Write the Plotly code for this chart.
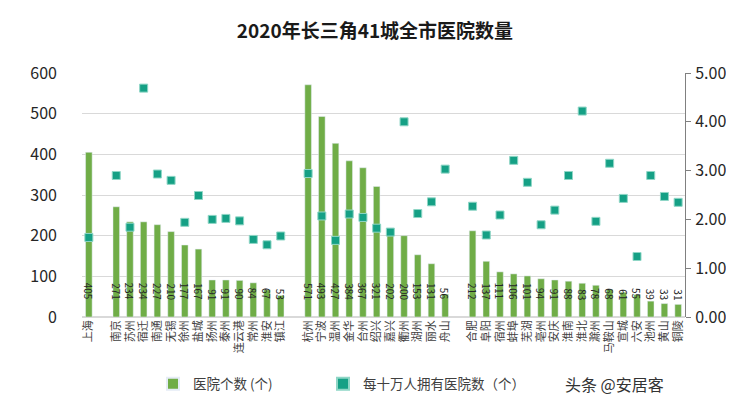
import plotly.graph_objects as go

cities = ["上海", "",
          "南京", "苏州", "宿迁", "南通", "无锡", "徐州", "盐城", "扬州", "泰州", "连云港", "常州", "淮安", "镇江", "",
          "杭州", "宁波", "温州", "金华", "台州", "绍兴", "嘉兴", "衢州", "湖州", "丽水", "舟山", "",
          "合肥", "阜阳", "宿州", "蚌埠", "芜湖", "亳州", "安庆", "淮南", "淮北", "滁州", "马鞍山", "宣城", "六安", "池州", "黄山", "铜陵"]
hospitals = [405, None,
             271, 234, 234, 227, 210, 177, 167, 91, 91, 90, 84, 67, 53, None,
             571, 493, 427, 384, 367, 321, 202, 200, 153, 131, 56, None,
             212, 137, 111, 106, 101, 94, 91, 88, 83, 78, 68, 61, 55, 39, 33, 31]
per100k = [1.63, None,
           2.90, 1.84, 4.69, 2.93, 2.80, 1.94, 2.49, 2.00, 2.02, 1.97, 1.59, 1.48, 1.66, None,
           2.94, 2.07, 1.57, 2.11, 2.04, 1.82, 1.74, 4.00, 2.12, 2.36, 3.03, None,
           2.27, 1.68, 2.09, 3.21, 2.76, 1.89, 2.19, 2.90, 4.22, 1.96, 3.15, 2.43, 1.24, 2.90, 2.47, 2.35]

font = "Noto Sans CJK SC"
pos = list(range(len(cities)))

fig = go.Figure()
fig.add_trace(go.Bar(
    x=pos, y=hospitals, name="医院个数 (个)", legend="legend",
    marker=dict(color="#70AD47"),
    hovertext=cities, hoverinfo="text+y",
))
fig.add_trace(go.Scatter(
    x=pos, y=per100k, name="每十万人拥有医院数（个）", yaxis="y2", legend="legend2",
    mode="markers",
    marker=dict(symbol="square", size=8, color="#15A085",
                line=dict(color="#8fd6c6", width=1)),
    hovertext=cities, hoverinfo="text+y",
))

pl, pr, pt, pb = 74, 57, 65, 89
pw, ph = 734 - pl - pr, 398 - pt - pb

annotations = []
for p, v in zip(pos, hospitals):
    if v is None:
        continue
    annotations.append(dict(x=p, y=0, xref="x", yref="y", text=str(v), textangle=90,
                            xanchor="center", yanchor="bottom", yshift=15, showarrow=False,
                            font=dict(size=10, color="#262626", family=font)))
annotations.append(dict(text="头条 @安居客", x=(606 - pl) / pw, y=(398 - 376 - pb) / ph,
                        xref="paper", yref="paper", xanchor="center", yanchor="middle",
                        showarrow=False, font=dict(size=16, color="#333333", family=font)))

leg_y = (398 - 376 - pb) / ph
fig.update_layout(
    width=734, height=398,
    margin=dict(l=pl, r=pr, t=pt, b=pb, autoexpand=False),
    paper_bgcolor="white", plot_bgcolor="white",
    font=dict(family=font, color="#404040"),
    title=dict(text="<b>2020年长三角41城全市医院数量</b>", x=0.5, xanchor="center",
               y=1 - 23 / 398, yanchor="middle", font=dict(size=19, color="#1a1a1a", family=font)),
    bargap=0.52,
    showlegend=True,
    legend=dict(orientation="h", x=(145 - pl) / pw, xanchor="left", y=leg_y, yanchor="middle",
                font=dict(size=13.5, color="#404040", family=font), itemsizing="constant"),
    legend2=dict(orientation="h", x=(315 - pl) / pw, xanchor="left", y=leg_y, yanchor="middle",
                 font=dict(size=13.5, color="#404040", family=font), itemsizing="constant"),
    xaxis=dict(range=[-0.5, len(cities) - 0.5], tickmode="array", tickvals=pos, ticktext=cities,
               tickangle=-90, showgrid=False, showline=False, zeroline=False, automargin=False,
               ticks="", tickfont=dict(size=11, color="#404040", family=font)),
    yaxis=dict(range=[0, 600], dtick=100, showgrid=True, gridcolor="#d9d9d9",
               zeroline=True, zerolinecolor="#d9d9d9", showline=False, ticks="",
               automargin=False,
               tickfont=dict(size=16, color="#262626"), ticklabelstandoff=24),
    yaxis2=dict(range=[0, 5], dtick=1, overlaying="y", side="right", tickformat=".2f",
                showgrid=False, zeroline=False, showline=True, linecolor="#808080",
                ticks="outside", ticklen=5, tickcolor="#808080", automargin=False,
                tickfont=dict(size=16, color="#262626"), ticklabelstandoff=1),
    annotations=annotations,
)
fig.write_html("out.html")
